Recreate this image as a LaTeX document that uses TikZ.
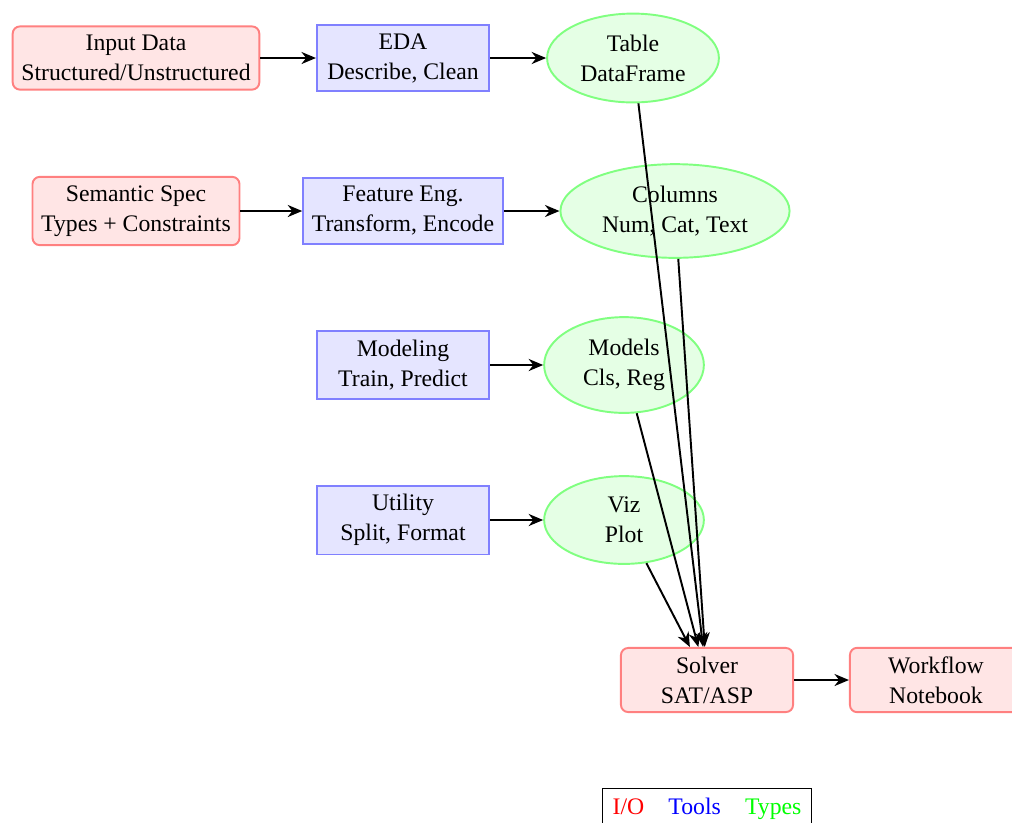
\documentclass[tikz,border=0pt]{standalone}
\usepackage{fontspec}
\setmainfont{Liberation Serif}
\usetikzlibrary{shapes.geometric,arrows.meta}
\tikzset{
  every node/.style={font=\fontsize{9.8}{12.4}\selectfont},
  io/.style={draw=red!50, fill=red!10, thick, rounded corners=3pt, align=center, minimum width=2.5cm, inner sep=3.6pt},
  tool/.style={draw=blue!50, fill=blue!10, thick, align=center, minimum width=2.5cm, inner sep=3.6pt},
  typ/.style={draw=green!50, fill=green!10, thick, ellipse, align=center, minimum width=66pt},
  conn/.style={thick, -{Stealth[length=6pt,width=5pt]}},
}
\begin{document}
\begin{tikzpicture}[x=0.4132pt, y=-0.4132pt]
\useasboundingbox (0,0) rectangle (1012,822);
\clip (0,0) rectangle (1012,822);
\node[io]   (input) at (136,58)  {Input Data\\Structured/Unstructured};
\node[tool] (eda)   at (403,58)  {EDA\\Describe, Clean};
\node[typ]  (table) at (633,58)  {Table\\DataFrame};
\node[io]   (sem)   at (136,211) {Semantic Spec\\Types + Constraints};
\node[tool] (feat)  at (403,211) {Feature Eng.\\Transform, Encode};
\node[typ]  (cols)  at (675,211) {Columns\\Num, Cat, Text};
\node[tool] (model) at (403,365) {Modeling\\Train, Predict};
\node[typ]  (mods)  at (624,365) {Models\\Cls, Reg};
\node[tool] (util)  at (403,520) {Utility\\Split, Format};
\node[typ]  (viz)   at (624,520) {Viz\\Plot};
\node[io]   (solver) at (707,680) {Solver\\SAT/ASP};
\node[io]   (work)  at (936,680) {Workflow\\Notebook};
\node[draw, thin, inner sep=4pt] (legend) at (707,809) {\textcolor{red}{I/O}\hspace{10pt}\textcolor{blue}{Tools}\hspace{10pt}\textcolor{green}{Types}};
\draw[conn] (input) -- (eda);
\draw[conn] (eda) -- (table);
\draw[conn] (sem) -- (feat);
\draw[conn] (feat) -- (cols);
\draw[conn] (model) -- (mods);
\draw[conn] (util) -- (viz);
\draw[conn] (table) -- (solver);
\draw[conn] (cols) -- (solver);
\draw[conn] (mods) -- (solver);
\draw[conn] (viz) -- (solver);
\draw[conn] (solver) -- (work);
\end{tikzpicture}
\end{document}
